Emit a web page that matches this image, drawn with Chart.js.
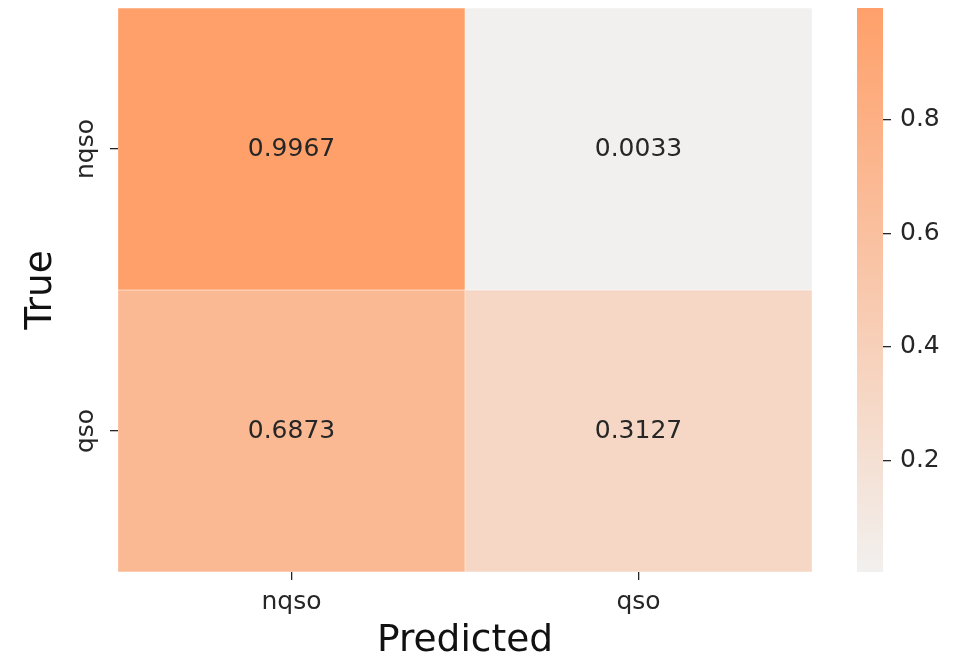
<!DOCTYPE html>
<html>
<head>
<meta charset="utf-8">
<script src="https://cdn.jsdelivr.net/npm/chart.js@4.4.1/dist/chart.umd.min.js"></script>
<style>
  html, body { margin: 0; padding: 0; background: #ffffff; }
  #wrap { position: relative; width: 956px; height: 661px; }
  #wrap canvas { position: absolute; left: 0; top: 0; }
</style>
</head>
<body>
<div id="wrap">
  <canvas id="matrix" width="956" height="661"></canvas>
  <canvas id="colorbar" width="956" height="661"></canvas>
</div>
<script>
// Confusion matrix (row = true class, column = predicted class), row-normalised
const classLabels = ['nqso', 'qso'];
const rowNqso = [0.9967, 0.0033];
const rowQso = [0.6873, 0.3127];
const colorbarTicks = [0.2, 0.4, 0.6, 0.8];

const rows = [rowNqso, rowQso];
const allValues = rows.flat();
const vMin = Math.min(...allValues);
const vMax = Math.max(...allValues);

// light grey -> orange sequential palette
const lowColor = [242, 240, 238];
const highColor = [255, 160, 106];
function colorFor(v) {
  const t = Math.max(0, Math.min(1, (v - vMin) / (vMax - vMin)));
  const c = lowColor.map((lo, i) => Math.round(lo + (highColor[i] - lo) * t));
  return `rgb(${c[0]},${c[1]},${c[2]})`;
}

const FONT = "'DejaVu Sans', sans-serif";
const TEXT = '#262626';
const TICK_SIZE = 25;
const TITLE_SIZE = 37.5;

// strip the extra room Chart.js reserves for overhanging tick labels
function noOverhang(scale) {
  scale.paddingTop = 0;
  scale.paddingBottom = 0;
  scale.paddingLeft = 0;
  scale.paddingRight = 0;
}

// Each row of the matrix is one dataset of floating bars spanning [row, row + 1]
const datasets = rows.map((vals, r) => ({
  label: classLabels[r],
  data: vals.map(() => [r, r + 1]),
  values: vals,
  backgroundColor: vals.map(colorFor),
  borderColor: '#ffffff',
  borderWidth: 0.5,
  borderSkipped: false,
  grouped: false,
  barPercentage: 1,
  categoryPercentage: 1
}));

const cellText = {
  id: 'cellText',
  afterDatasetsDraw(chart) {
    const ctx = chart.ctx;
    ctx.save();
    ctx.font = `${TICK_SIZE}px ${FONT}`;
    ctx.fillStyle = TEXT;
    ctx.textAlign = 'center';
    ctx.textBaseline = 'middle';
    chart.data.datasets.forEach((ds, i) => {
      chart.getDatasetMeta(i).data.forEach((bar, j) => {
        const p = bar.getProps(['x', 'y', 'base'], true);
        ctx.fillText(ds.values[j].toFixed(4), p.x, (p.y + p.base) / 2);
      });
    });
    ctx.restore();
  }
};

new Chart(document.getElementById('matrix'), {
  type: 'bar',
  data: { labels: classLabels, datasets },
  options: {
    responsive: false,
    animation: false,
    events: [],
    layout: { padding: { left: 23, top: 8, right: 144, bottom: 1 } },
    plugins: { legend: { display: false }, tooltip: { enabled: false } },
    scales: {
      x: {
        type: 'category',
        offset: true,
        border: { display: false },
        grid: { offset: false, drawOnChartArea: false, drawTicks: true, tickLength: 8, color: TEXT, lineWidth: 1.3 },
        ticks: { color: TEXT, font: { family: FONT, size: TICK_SIZE }, padding: 7, maxRotation: 0 },
        title: { display: true, text: 'Predicted', color: '#111', font: { family: FONT, size: TITLE_SIZE, lineHeight: 1 }, padding: 0 },
        afterFit(scale) { scale.height = 88; noOverhang(scale); }
      },
      y: {
        type: 'linear',
        min: 0,
        max: classLabels.length,
        reverse: true,
        border: { display: false },
        grid: { drawOnChartArea: false, drawTicks: true, tickLength: 8, color: TEXT, lineWidth: 1.3 },
        afterBuildTicks(scale) {
          scale.ticks = classLabels.map((_, i) => ({ value: i + 0.5 }));
        },
        ticks: {
          color: TEXT,
          font: { family: FONT, size: TICK_SIZE },
          minRotation: 90,
          maxRotation: 90,
          crossAlign: 'center',
          padding: -7,
          callback: (v) => classLabels[Math.floor(v)]
        },
        title: { display: true, text: 'True', color: '#111', font: { family: FONT, size: TITLE_SIZE, lineHeight: 1 }, padding: 0 },
        afterFit(scale) { scale.width = 95; noOverhang(scale); }
      }
    }
  },
  plugins: [cellText]
});

// Colour bar: a single floating bar filled with the palette gradient
new Chart(document.getElementById('colorbar'), {
  type: 'bar',
  data: {
    labels: [''],
    datasets: [{
      data: [[vMin, vMax]],
      borderWidth: 0,
      barPercentage: 1,
      categoryPercentage: 1,
      backgroundColor(ctx) {
        const chart = ctx.chart;
        const area = chart.chartArea;
        if (!area) return colorFor(vMax);
        const y = chart.scales.y;
        const g = chart.ctx.createLinearGradient(0, y.getPixelForValue(vMin), 0, y.getPixelForValue(vMax));
        g.addColorStop(0, colorFor(vMin));
        g.addColorStop(1, colorFor(vMax));
        return g;
      }
    }]
  },
  options: {
    responsive: false,
    animation: false,
    events: [],
    layout: { padding: { left: 857, top: 8, right: 0, bottom: 89 } },
    plugins: { legend: { display: false }, tooltip: { enabled: false } },
    scales: {
      x: { display: false },
      y: {
        position: 'right',
        min: vMin,
        max: vMax,
        border: { display: false },
        grid: { drawOnChartArea: false, drawTicks: true, tickLength: 8, color: TEXT, lineWidth: 1.3 },
        afterBuildTicks(scale) {
          scale.ticks = colorbarTicks.map(v => ({ value: v }));
        },
        ticks: { color: TEXT, font: { family: FONT, size: TICK_SIZE }, padding: 9, callback: (v) => v.toFixed(1) },
        afterFit(scale) { scale.width = 73; noOverhang(scale); }
      }
    }
  }
});
</script>
</body>
</html>
